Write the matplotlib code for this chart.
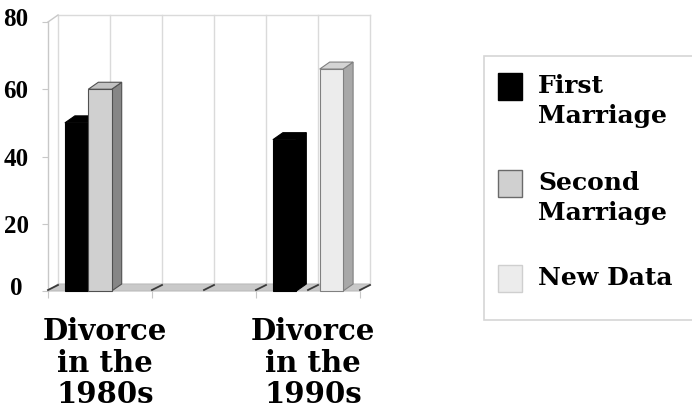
import matplotlib
matplotlib.use("Agg")
import matplotlib.pyplot as plt
from matplotlib.patches import Polygon, Rectangle
import matplotlib.transforms as mtransforms
import numpy as np

# ---------------- data ----------------
categories = ["Divorce\nin the\n1980s", "", "Divorce\nin the\n1990s"]
series_names = ["First\nMarriage", "Second\nMarriage", "New Data"]
first_marriage = [50, 0, 45]
second_marriage = [60, 0, 0]
new_data = [0, 0, 66]
yticks = [0, 20, 40, 60, 80]

# ---------------- style ----------------
front_colors = ["#000000", "#d0d0d0", "#ececec"]
top_colors = ["#000000", "#c2c2c2", "#d4d4d4"]
side_colors = ["#000000", "#868686", "#a8a8a8"]
edge_colors = ["#000000", "#505050", "#808080"]
legend_edges = ["#000000", "#6a6a6a", "#cfcfcf"]

W, H = 692, 417
fig = plt.figure(figsize=(W / 100, H / 100), dpi=100)
ax_l, ax_r, ax_b, ax_t = 48, 360, 291, 22  # front plane in pixels
ax = fig.add_axes([ax_l / W, (H - ax_b) / H, (ax_r - ax_l) / W, (ax_b - ax_t) / H])
ax.set_xlim(-0.5, 2.5)
ax.set_ylim(0, 80)
for s in ax.spines.values():
    s.set_visible(False)
ax.patch.set_visible(False)

px_x = (ax_r - ax_l) / 3.0
px_y = (ax_b - ax_t) / 80.0
dx = 10 / px_x
dy = 7 / px_y

grid_c = "#dadada"
# back wall gridlines
for gx in np.arange(-0.5, 2.51, 0.5):
    ax.plot([gx + dx, gx + dx], [dy, 80 + dy], color=grid_c, lw=1, clip_on=False, zorder=1)
ax.plot([-0.5 + dx, 2.5 + dx], [80 + dy, 80 + dy], color=grid_c, lw=1, clip_on=False, zorder=1)
ax.plot([-0.5, -0.5 + dx], [80, 80 + dy], color="#c8c8c8", lw=1, clip_on=False, zorder=1)
ax.plot([-0.5, -0.5], [0, 80], color="#c8c8c8", lw=1, clip_on=False, zorder=1)

# floor
floor = Polygon([(-0.5, 0), (2.5, 0), (2.5 + dx, dy), (-0.5 + dx, dy)],
                closed=True, facecolor="#c9c9c9", edgecolor="#bcbcbc", lw=0.8,
                clip_on=False, zorder=2)
ax.add_patch(floor)
for gx in np.arange(-0.5, 2.51, 0.5):
    ax.plot([gx, gx + dx], [0.3, dy - 0.3], color="#3a3a3a", lw=1.3, clip_on=False, zorder=2.5)

# bars
series = [first_marriage, second_marriage, new_data]
bw = 0.225
offsets = (np.arange(3) - 1) * bw
z = 3
for ci in range(len(categories)):
    for si in range(len(series)):
        v = series[si][ci]
        if v <= 0:
            continue
        xc = ci + offsets[si]
        x0, x1 = xc - bw / 2, xc + bw / 2
        side = Polygon([(x1, 0), (x1 + dx, dy), (x1 + dx, v + dy), (x1, v)], closed=True,
                       facecolor=side_colors[si], edgecolor=edge_colors[si], lw=0.8,
                       clip_on=False, zorder=z)
        top = Polygon([(x0, v), (x0 + dx, v + dy), (x1 + dx, v + dy), (x1, v)], closed=True,
                      facecolor=top_colors[si], edgecolor=edge_colors[si], lw=0.8,
                      clip_on=False, zorder=z)
        ax.add_patch(side)
        ax.add_patch(top)
        ax.bar(xc, v, bw, color=front_colors[si], edgecolor=edge_colors[si], lw=0.8,
               zorder=z + 0.5, clip_on=False)
        z += 1

# y axis ticks
ax.set_yticks(yticks)
ax.set_yticklabels([str(t) for t in yticks], fontfamily="Liberation Serif",
                   fontweight="bold", fontsize=18, ha="center")
ax.tick_params(axis="y", length=4, color="#c8c8c8", pad=19, width=0.8)
ylbls = ax.get_yticklabels()
up = mtransforms.ScaledTranslation(0, 0.05, fig.dpi_scale_trans)
for lbl in (ylbls[0], ylbls[-1]):
    lbl.set_transform(lbl.get_transform() + up)

# x axis ticks
ax.set_xticks(range(len(categories)))
ax.set_xticklabels(categories, fontfamily="DejaVu Serif", fontweight="bold",
                   fontsize=21, linespacing=1.1)
ax.set_xticks([-0.5, 0.5, 1.5, 2.5], minor=True)
ax.tick_params(axis="x", which="major", length=0, pad=19)
ax.tick_params(axis="x", which="minor", length=5, color="#c8c8c8", width=0.8)
shift = mtransforms.ScaledTranslation(0.05, 0, fig.dpi_scale_trans)
for lbl in ax.get_xticklabels():
    lbl.set_transform(lbl.get_transform() + shift)

# legend
def fx(px):
    return px / W

def fy(py):
    return (H - py) / H

box = Rectangle((fx(484), fy(320)), fx(740) - fx(484), fy(56) - fy(320),
                transform=fig.transFigure, facecolor="white", edgecolor="#d6d6d6",
                lw=1.2, clip_on=False, zorder=0)
fig.add_artist(box)
entry_tops = [73, 170, 265]
for si, name in enumerate(series_names):
    t = entry_tops[si]
    sq = Rectangle((fx(498), fy(t + 27)), fx(522) - fx(498), fy(t) - fy(t + 27),
                   transform=fig.transFigure, facecolor=front_colors[si],
                   edgecolor=legend_edges[si], lw=1.0, zorder=1)
    fig.add_artist(sq)
    fig.text(fx(538), fy(t + 1), name, fontfamily="DejaVu Serif", fontweight="bold",
             fontsize=18, va="top", ha="left", linespacing=1.3)

fig.savefig("out.png", dpi=100)
